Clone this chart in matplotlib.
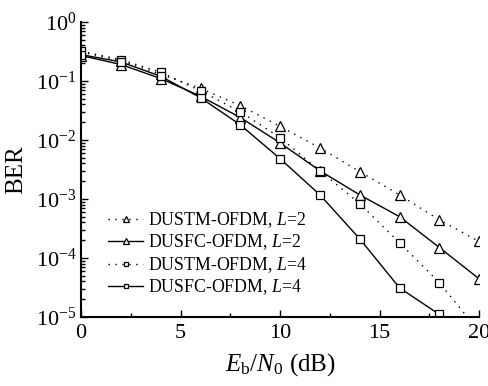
import numpy as np
import matplotlib
matplotlib.use("Agg")
import matplotlib.pyplot as plt
from matplotlib.ticker import MultipleLocator, LogLocator, NullFormatter

plt.rcParams['font.family'] = ['Liberation Serif', 'DejaVu Serif']
plt.rcParams['mathtext.fontset'] = 'custom'
plt.rcParams['mathtext.rm'] = 'Liberation Serif'
plt.rcParams['mathtext.it'] = 'Liberation Serif:italic'
plt.rcParams['mathtext.bf'] = 'Liberation Serif:bold'
plt.rcParams['axes.unicode_minus'] = False

snr = [0, 2, 4, 6, 8, 10, 12, 14, 16, 18, 20]

dustm_l2 = [0.31, 0.22, 0.13, 0.075, 0.038, 0.017, 0.0073, 0.0029, 0.00117, 4.4e-4, 1.9e-4]
dusfc_l2 = [0.27, 0.19, 0.11, 0.055, 0.024, 0.0089, 0.003, 0.00117, 5.0e-4, 1.5e-4, 4.4e-5]
dustm_l4 = [0.32, 0.23, 0.14, 0.068, 0.030, 0.0109, 0.003, 8.3e-4, 1.8e-4, 3.8e-5, 5.6e-6]
dusfc_l4 = [0.28, 0.21, 0.12, 0.052, 0.018, 0.0048, 0.00117, 2.1e-4, 3.1e-5, 1.1e-5, np.nan]

labels = ["DUSTM-OFDM, $L$=2", "DUSFC-OFDM, $L$=2",
          "DUSTM-OFDM, $L$=4", "DUSFC-OFDM, $L$=4"]

fig = plt.figure(figsize=(4.89, 3.86), dpi=100)
ax = fig.add_axes([0.166, 0.179, 0.814, 0.764])

mk = dict(markerfacecolor='white', markeredgecolor='black', markeredgewidth=0.9)
dots = (0, (1, 4))
ax.plot(snr, dustm_l2, color='black', ls=dots, lw=1.0, marker='^', ms=7, label=labels[0], **mk)
ax.plot(snr, dusfc_l2, color='black', ls='-', lw=1.0, marker='^', ms=7, label=labels[1], **mk)
ax.plot(snr, dustm_l4, color='black', ls=dots, lw=1.0, marker='s', ms=5.5, label=labels[2], **mk)
ax.plot(snr, dusfc_l4, color='black', ls='-', lw=1.0, marker='s', ms=5.5, label=labels[3], **mk)

ax.set_yscale('log')
ax.set_xlim(0, 20)
ax.set_ylim(1e-5, 1)
ax.xaxis.set_major_locator(MultipleLocator(5))
ax.xaxis.set_minor_locator(MultipleLocator(2.5))
ax.yaxis.set_major_locator(LogLocator(base=10, numticks=10))
ax.yaxis.set_minor_locator(LogLocator(base=10, subs=np.arange(2, 10), numticks=10))
ax.yaxis.set_minor_formatter(NullFormatter())

for s in ['top', 'right']:
    ax.spines[s].set_visible(False)
for s in ['left', 'bottom']:
    ax.spines[s].set_linewidth(1.5)

ax.tick_params(which='both', direction='in', labelsize=16, width=1.0)
ax.tick_params(which='major', length=5)
ax.tick_params(which='minor', length=3)
ax.tick_params(axis='x', pad=5)

ax.set_xlabel("$E_\\mathrm{b}/N_0$ (dB)", fontsize=18, labelpad=6)
ax.set_ylabel("BER", fontsize=18, labelpad=6)

ax.legend(loc='lower left', bbox_to_anchor=(0.05, 0.043), frameon=False, fontsize=12.8,
          handlelength=1.95, handletextpad=0.3, labelspacing=0.15, borderaxespad=0,
          markerscale=0.65)

fig.savefig("out.png", dpi=100)
